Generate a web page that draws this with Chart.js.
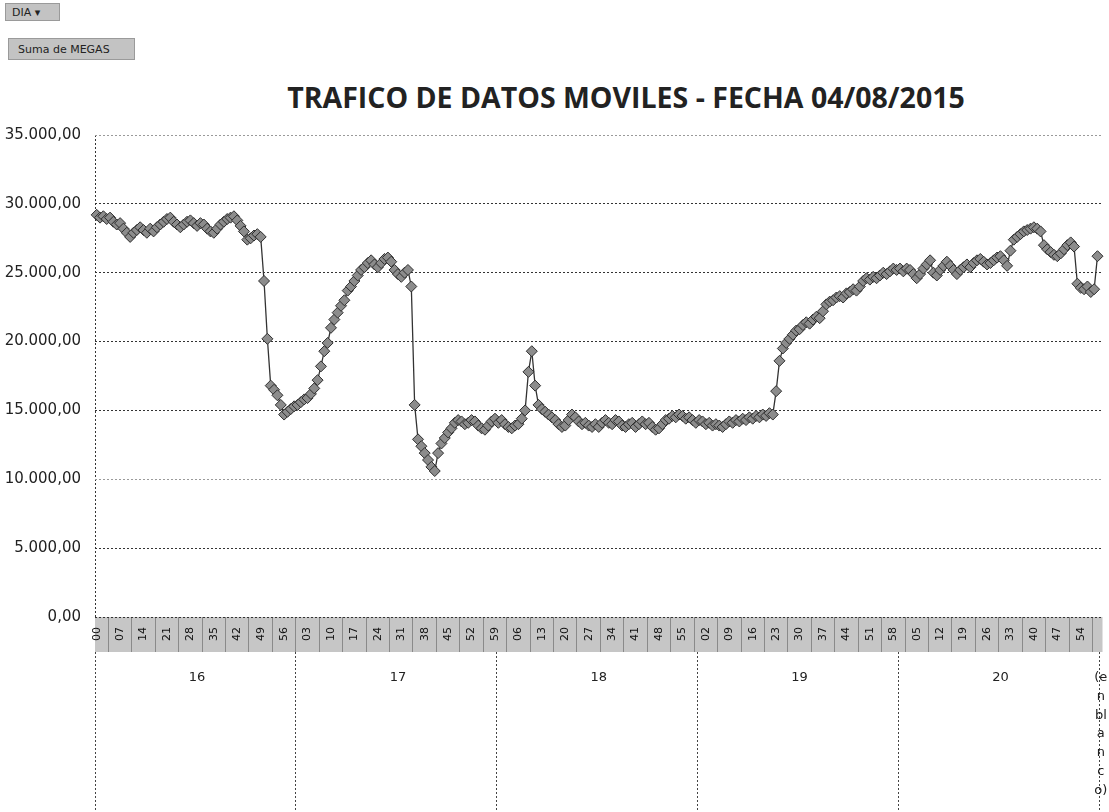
<!DOCTYPE html>
<html>
<head>
<meta charset="utf-8">
<title>Trafico de datos moviles</title>
<script src="https://cdn.jsdelivr.net/npm/chart.js@4.4.1/dist/chart.umd.min.js"></script>
<style>
  html, body { margin: 0; padding: 0; background: #fff; overflow: hidden; }
  body { width: 1109px; height: 812px; position: relative; font-family: "DejaVu Sans", sans-serif; }
  .field-btn { position: absolute; background: #c3c3c3; border: 1px solid #9a9a9a; color: #222; font-size: 11px; line-height: 1; white-space: nowrap; box-sizing: border-box; }
  #diaBtn { left: 5px; top: 3px; width: 55px; height: 18px; padding: 3px 6px; }
  #megasBtn { left: 8px; top: 38px; width: 127px; height: 22px; padding: 5px 9px; }
  #chartTitle { position: absolute; left: 126px; width: 1000px; top: 78px; text-align: center; font: bold 28.5px "Open Sans", sans-serif; color: #222; white-space: nowrap; }
  #chartWrap { position: absolute; left: 0; top: 0; }
</style>
</head>
<body>
<div class="field-btn" id="diaBtn">DIA &#9662;</div>
<div class="field-btn" id="megasBtn">Suma de MEGAS</div>
<div id="chartTitle">TRAFICO DE DATOS MOVILES - FECHA 04/08/2015</div>
<div id="chartWrap"><canvas id="traffic" width="1109" height="812"></canvas></div>

<script>
// --- DATA (MB per minute) ---
const hours = ['16', '17', '18', '19', '20'];

const megas16 = [
    29200, 29000, 29100, 28900, 29000, 28700, 28500, 28600, 28200, 27900,
    27600, 27900, 28100, 28300, 28100, 27900, 28200, 28000, 28300, 28500,
    28700, 28900, 29000, 28700, 28500, 28300, 28500, 28700, 28800, 28600,
    28400, 28600, 28500, 28200, 28000, 27900, 28200, 28500, 28700, 28900,
    29000, 29100, 28800, 28400, 28000, 27400, 27500, 27700, 27800, 27600,
    24400, 20200, 16800, 16500, 16100, 15400, 14700, 14900, 15100, 15300
];
const megas17 = [
    15400, 15600, 15800, 15900, 16200, 16600, 17200, 18200, 19300, 19900,
    21000, 21600, 22100, 22600, 23000, 23700, 24000, 24400, 24800, 25200,
    25400, 25700, 25900, 25600, 25400, 25700, 26000, 26100, 25800, 25200,
    24900, 24700, 25000, 25200, 24000, 15400, 12900, 12400, 11900, 11400,
    10900, 10600, 11900, 12600, 13000, 13400, 13700, 14100, 14300, 14200,
    14000, 14100, 14300, 14200, 13900, 13700, 13600, 13900, 14200, 14400
];
const megas18 = [
    14100, 14300, 14000, 13800, 13700, 13900, 14000, 14400, 15000, 17800,
    19300, 16800, 15400, 15100, 14900, 14700, 14500, 14300, 14000, 13800,
    13900, 14300, 14700, 14500, 14200, 14000, 14100, 13900, 13800, 14000,
    13800, 14100, 14300, 14100, 14000, 14300, 14200, 13900, 13800, 14000,
    14100, 13800, 14000, 14200, 14000, 14100, 13800, 13600, 13700, 14000,
    14300, 14400, 14600, 14500, 14700, 14600, 14400, 14500, 14300, 14100
];
const megas19 = [
    14300, 14200, 14000, 14100, 13900, 14000, 13900, 13800, 14000, 14200,
    14100, 14300, 14200, 14400, 14300, 14500, 14400, 14600, 14500, 14700,
    14600, 14800, 14700, 16400, 18600, 19500, 19900, 20200, 20500, 20800,
    20900, 21200, 21400, 21300, 21600, 21800, 21700, 22200, 22700, 22900,
    23000, 23200, 23300, 23200, 23500, 23600, 23800, 23700, 24000, 24400,
    24600, 24500, 24700, 24600, 24800, 25000, 24900, 25100, 25300, 25200
];
const megas20 = [
    25300, 25100, 25300, 25200, 24900, 24600, 24900, 25300, 25600, 25900,
    25000, 24800, 25200, 25500, 25800, 25500, 25200, 24900, 25200, 25400,
    25600, 25400, 25700, 25900, 26000, 25800, 25600, 25700, 25900, 26100,
    26200, 25900, 25500, 26600, 27400, 27600, 27800, 28000, 28100, 28200,
    28300, 28200, 28000, 27000, 26700, 26500, 26300, 26200, 26400, 26700,
    27000, 27200, 26900, 24200, 23900, 23800, 24000, 23600, 23800, 26200
];
const megasByHour = [megas16, megas17, megas18, megas19, megas20];

const blankLabel = ['(e', 'n', 'bl', 'a', 'n', 'c', 'o)'];   // "(en blanco)" wrapped like Excel does
const yMin = 0;
const yMax = 35000;
const yStep = 5000;
const LABEL_STEP = 7;   // Excel shows every 7th minute

// Build the flat category lists the chart needs
const minuteLabels = [];
const hourLabels = [];
const values = [];
megasByHour.forEach((serie, hi) => {
    serie.forEach((v, m) => {
        minuteLabels.push(String(m).padStart(2, '0'));
        hourLabels.push(m === 30 ? hours[hi] : '');
        values.push(v);
    });
});
minuteLabels.push('');
hourLabels.push(blankLabel);
values.push(null);

const fmt = new Intl.NumberFormat('de-DE', { minimumFractionDigits: 2, maximumFractionDigits: 2 });
const CLEAR = 'rgba(0,0,0,0)';

new Chart(document.getElementById('traffic'), {
    type: 'line',
    data: {
        labels: minuteLabels,
        datasets: [{
            label: 'Total',
            data: values,
            borderColor: '#333',
            borderWidth: 1.3,
            pointStyle: 'rectRot',
            pointRadius: 5.5,
            pointBorderWidth: 1,
            pointBorderColor: '#2e2e2e',
            pointBackgroundColor: '#8c8c8c',
            tension: 0
        }]
    },
    options: {
        responsive: false,
        animation: false,
        devicePixelRatio: 1,
        layout: { padding: { top: 135, right: 6, left: 0, bottom: 0 } },
        plugins: {
            legend: { display: false },
            title: { display: false },
            tooltip: { enabled: false }
        },
        scales: {
            x: {
                type: 'category',
                position: 'bottom',
                weight: 0,
                offset: true,
                backgroundColor: '#c6c6c6',
                border: { display: false, dash: [2, 2] },
                grid: {
                    offset: true,
                    drawOnChartArea: true,
                    color: ctx => ctx.index === 0 ? '#333' : CLEAR,
                    tickLength: 35,
                    tickColor: ctx => ctx.index % LABEL_STEP === 4 ? '#8a8a8a' : CLEAR
                },
                ticks: {
                    autoSkip: false,
                    minRotation: 90,
                    maxRotation: 90,
                    padding: -25,
                    color: '#111',
                    font: { family: 'DejaVu Sans', size: 11 },
                    callback: function (v, i) { return i % LABEL_STEP === 0 ? this.getLabelForValue(v) : ''; }
                },
                afterFit: s => { s.height = 35; }
            },
            xh: {
                type: 'category',
                position: 'bottom',
                weight: 1,
                offset: true,
                labels: hourLabels,
                border: { display: false },
                grid: {
                    offset: true,
                    drawOnChartArea: false,
                    tickLength: 160,
                    tickColor: ctx => ctx.index % 60 === 0 ? '#444' : CLEAR,
                    tickBorderDash: [2, 2]
                },
                ticks: {
                    autoSkip: false,
                    minRotation: 0,
                    maxRotation: 0,
                    padding: -144,
                    color: '#222',
                    font: { family: 'DejaVu Sans', size: 13, lineHeight: 1.45 },
                    callback: (v, i) => hourLabels[i]
                },
                afterFit: s => { s.height = 160; }
            },
            y: {
                min: yMin,
                max: yMax,
                border: { display: false, dash: [2, 2] },
                grid: {
                    drawTicks: false,
                    color: ctx => (ctx.tick && (ctx.tick.value === 35000 || ctx.tick.value === 10000)) ? '#9a9a9a' : '#333'
                },
                ticks: {
                    stepSize: yStep,
                    padding: 14,
                    color: '#222',
                    font: { family: 'DejaVu Sans', size: 15 },
                    callback: v => fmt.format(v)
                },
                afterFit: s => { s.width = 95; }
            }
        }
    }
});
</script>
</body>
</html>
